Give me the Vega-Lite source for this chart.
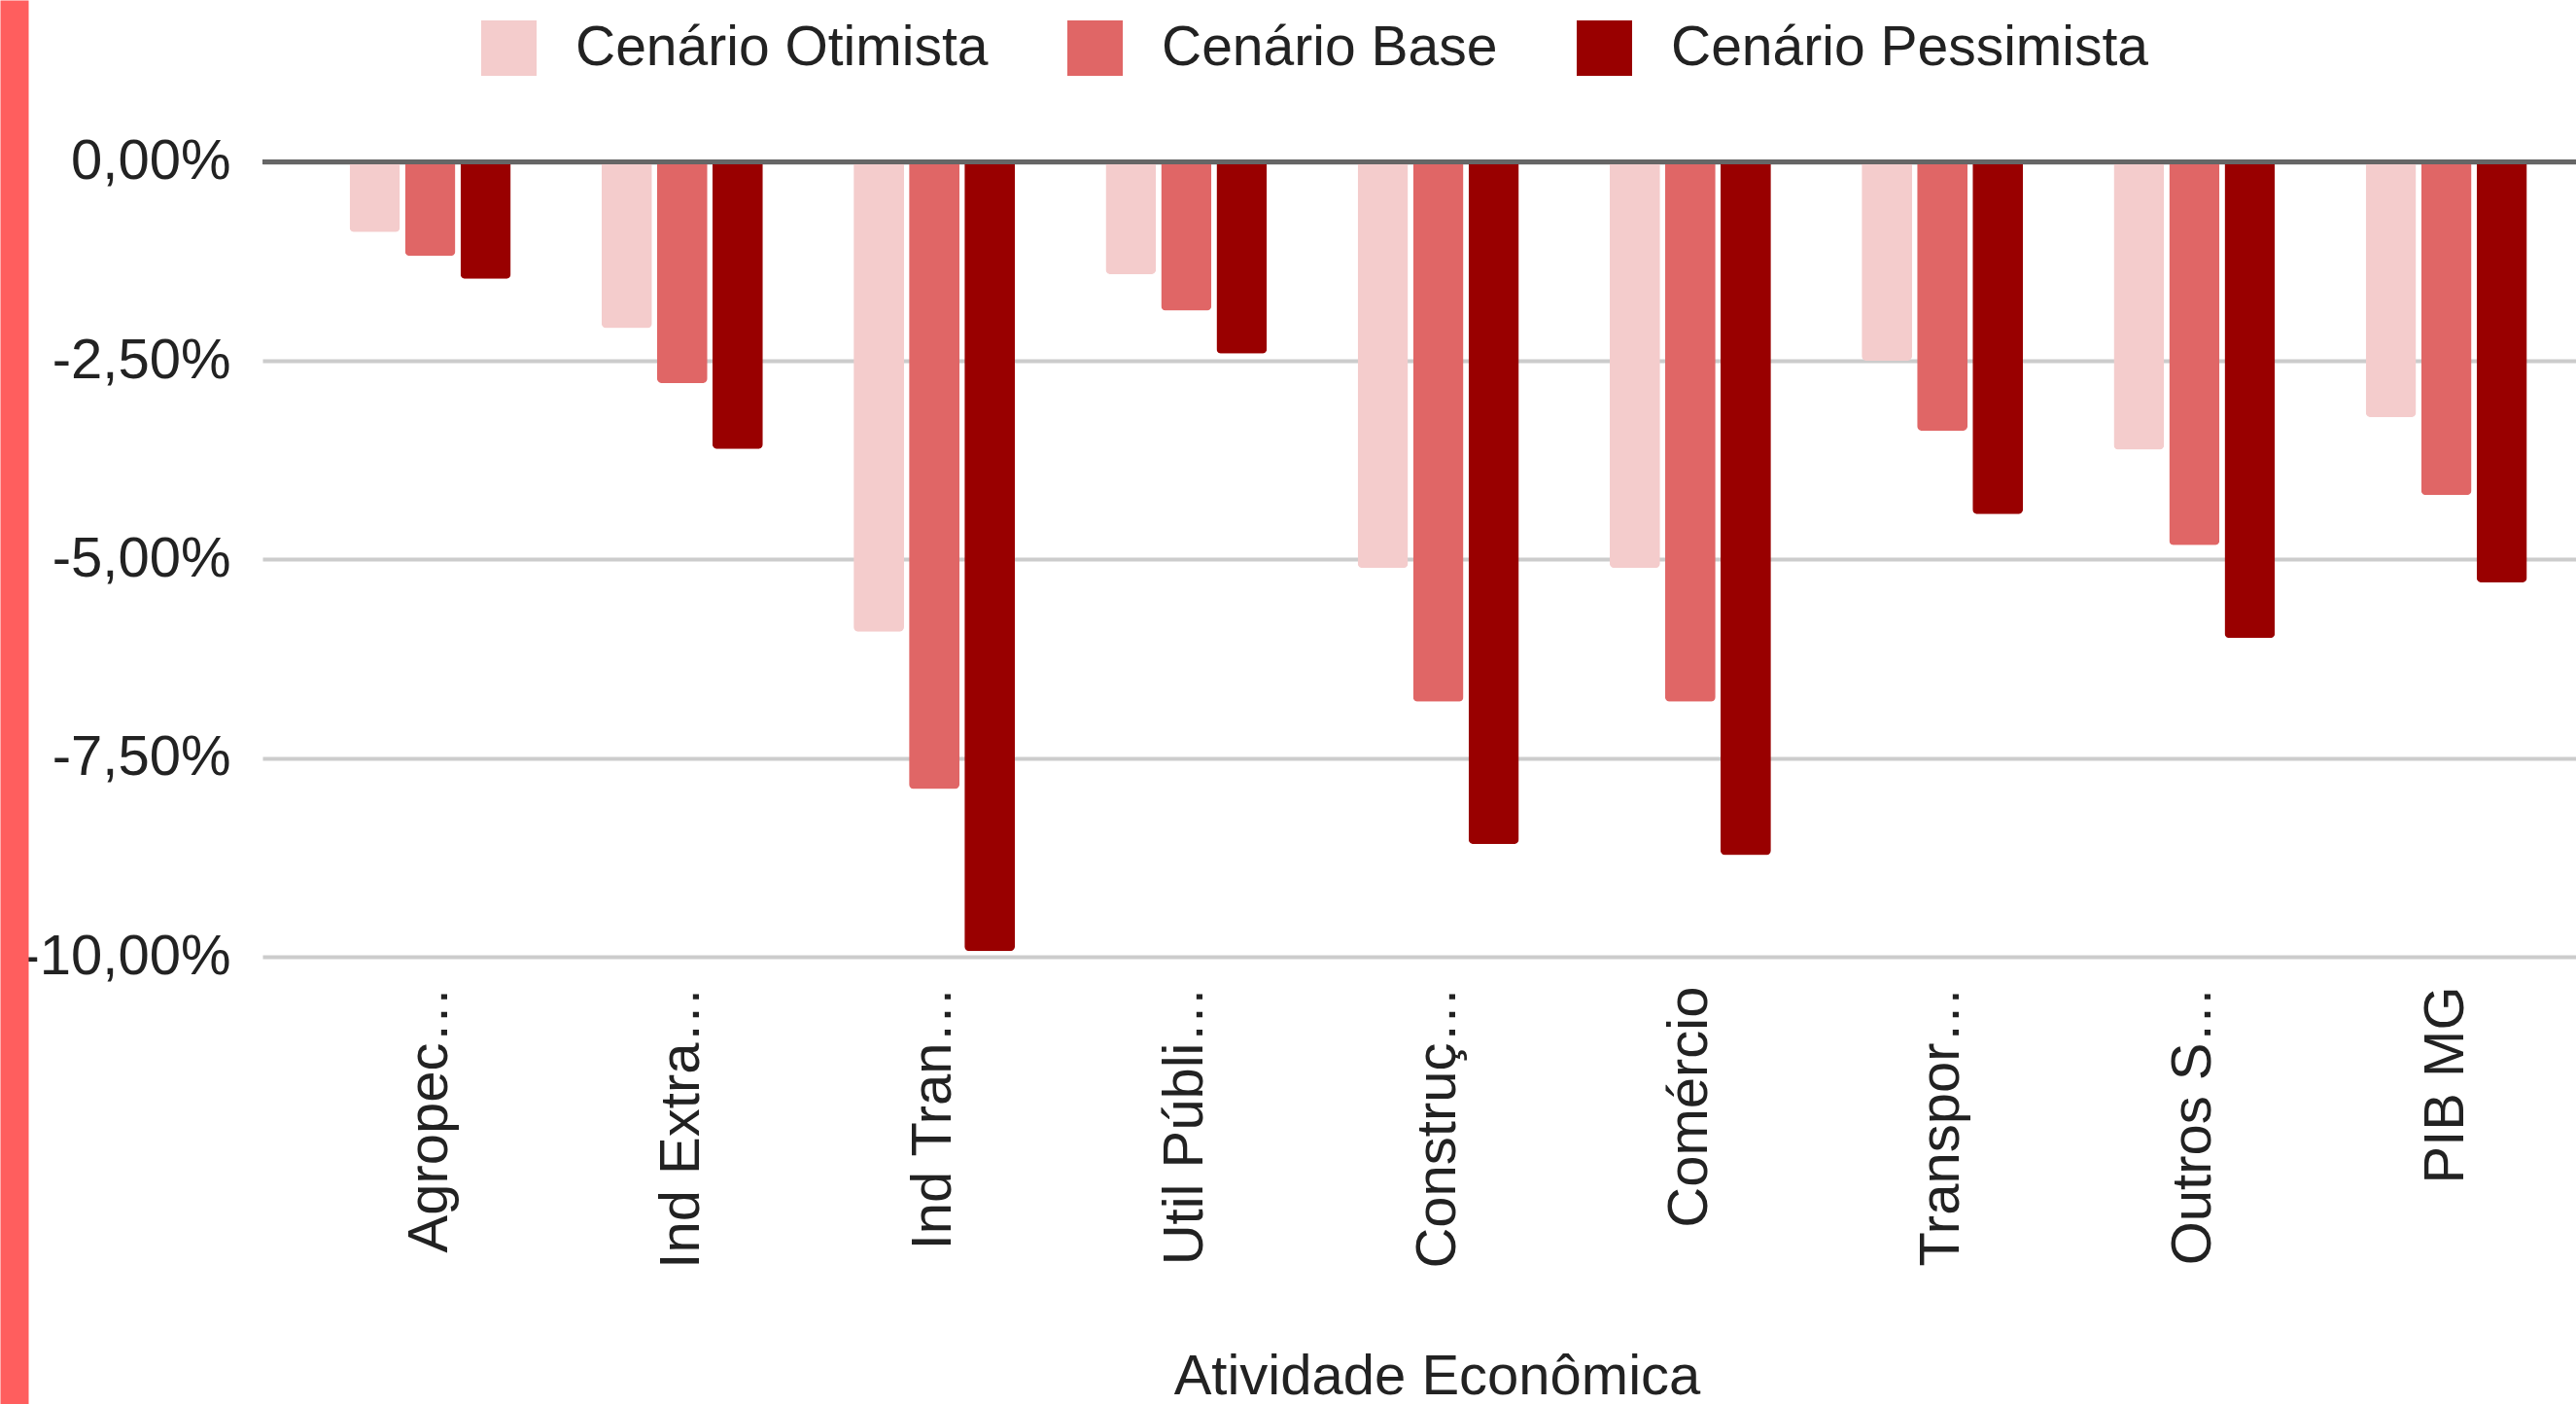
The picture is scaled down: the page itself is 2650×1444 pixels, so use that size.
{
  "$schema": "https://vega.github.io/schema/vega-lite/v6.json",
  "width": 2380,
  "height": 1444,
  "autosize": {"type": "none"},
  "padding": {"left": 270, "top": 0, "right": 0, "bottom": 0},
  "background": "white",
  "config": {"view": {"stroke": null}, "font": "Liberation Sans"},
  "data": {
    "values": [
      {"atividade": "Agropec…", "cenario": "Cenário Otimista", "valor": -0.88},
      {"atividade": "Agropec…", "cenario": "Cenário Base", "valor": -1.18},
      {"atividade": "Agropec…", "cenario": "Cenário Pessimista", "valor": -1.47},
      {"atividade": "Ind Extra…", "cenario": "Cenário Otimista", "valor": -2.09},
      {"atividade": "Ind Extra…", "cenario": "Cenário Base", "valor": -2.78},
      {"atividade": "Ind Extra…", "cenario": "Cenário Pessimista", "valor": -3.61},
      {"atividade": "Ind Tran…", "cenario": "Cenário Otimista", "valor": -5.91},
      {"atividade": "Ind Tran…", "cenario": "Cenário Base", "valor": -7.89},
      {"atividade": "Ind Tran…", "cenario": "Cenário Pessimista", "valor": -9.93},
      {"atividade": "Util Públi…", "cenario": "Cenário Otimista", "valor": -1.41},
      {"atividade": "Util Públi…", "cenario": "Cenário Base", "valor": -1.87},
      {"atividade": "Util Públi…", "cenario": "Cenário Pessimista", "valor": -2.41},
      {"atividade": "Construç…", "cenario": "Cenário Otimista", "valor": -5.11},
      {"atividade": "Construç…", "cenario": "Cenário Base", "valor": -6.79},
      {"atividade": "Construç…", "cenario": "Cenário Pessimista", "valor": -8.58},
      {"atividade": "Comércio", "cenario": "Cenário Otimista", "valor": -5.11},
      {"atividade": "Comércio", "cenario": "Cenário Base", "valor": -6.79},
      {"atividade": "Comércio", "cenario": "Cenário Pessimista", "valor": -8.72},
      {"atividade": "Transpor…", "cenario": "Cenário Otimista", "valor": -2.50},
      {"atividade": "Transpor…", "cenario": "Cenário Base", "valor": -3.38},
      {"atividade": "Transpor…", "cenario": "Cenário Pessimista", "valor": -4.43},
      {"atividade": "Outros S…", "cenario": "Cenário Otimista", "valor": -3.62},
      {"atividade": "Outros S…", "cenario": "Cenário Base", "valor": -4.82},
      {"atividade": "Outros S…", "cenario": "Cenário Pessimista", "valor": -5.99},
      {"atividade": "PIB MG", "cenario": "Cenário Otimista", "valor": -3.21},
      {"atividade": "PIB MG", "cenario": "Cenário Base", "valor": -4.19},
      {"atividade": "PIB MG", "cenario": "Cenário Pessimista", "valor": -5.29}
    ]
  },
  "layer": [
    {
      "mark": {"type": "bar", "cornerRadiusBottomLeft": 5, "cornerRadiusBottomRight": 5},
      "encoding": {
        "x": {
          "field": "atividade",
          "type": "nominal",
          "sort": null,
          "scale": {"paddingInner": 0.36, "paddingOuter": 0.27, "align": 0.64},
          "axis": {
            "title": "Atividade Econômica",
            "offset": -460,
            "labelAngle": -90,
            "labelFontSize": 58,
            "labelColor": "#222222",
            "labelPadding": 30,
            "labelLimit": 1000,
            "ticks": false,
            "tickSize": 0,
            "domain": false,
            "grid": false,
            "titleFontSize": 58,
            "titleFontWeight": "normal",
            "titleColor": "#222222",
            "titleX": 1208,
            "titleY": 449,
            "titleAlign": "center",
            "titleBaseline": "alphabetic"
          }
        },
        "xOffset": {
          "field": "cenario",
          "type": "nominal",
          "sort": ["Cenário Otimista", "Cenário Base", "Cenário Pessimista"],
          "scale": {"paddingInner": 0.09, "paddingOuter": 0}
        },
        "y": {
          "field": "valor",
          "type": "quantitative",
          "scale": {"domain": [-15.628, 2.0397], "nice": false, "zero": false},
          "axis": {
            "title": null,
            "offset": 255.5,
            "values": [0, -2.5, -5, -7.5, -10],
            "labelExpr": "replace(replace(format(datum.value, '.2f'), '.', ','), '\u2212', '-') + '%'",
            "labelFontSize": 58,
            "labelColor": "#222222",
            "labelPadding": -222.5,
            "labelAlign": "right",
            "labelLimit": 1000,
            "ticks": false,
            "tickSize": 0,
            "domain": true,
            "domainColor": "#ff5e5e",
            "domainWidth": 29,
            "domainCap": "butt",
            "grid": true,
            "gridColor": "#cccccc",
            "gridWidth": 4
          }
        },
        "color": {
          "field": "cenario",
          "type": "nominal",
          "sort": ["Cenário Otimista", "Cenário Base", "Cenário Pessimista"],
          "scale": {
            "domain": ["Cenário Otimista", "Cenário Base", "Cenário Pessimista"],
            "range": ["#f4cccc", "#e06666", "#990000"]
          },
          "legend": {
            "title": null,
            "orient": "none",
            "legendX": 225,
            "legendY": 21,
            "direction": "horizontal",
            "symbolType": "square",
            "symbolSize": 3249,
            "symbolStrokeWidth": 0,
            "labelFontSize": 57,
            "labelColor": "#222222",
            "labelOffset": 40,
            "columnPadding": 81,
            "padding": 0,
            "labelLimit": 1000
          }
        }
      }
    },
    {
      "mark": {"type": "rule", "color": "#666666", "strokeWidth": 4},
      "encoding": {"y": {"datum": 0}}
    }
  ]
}
